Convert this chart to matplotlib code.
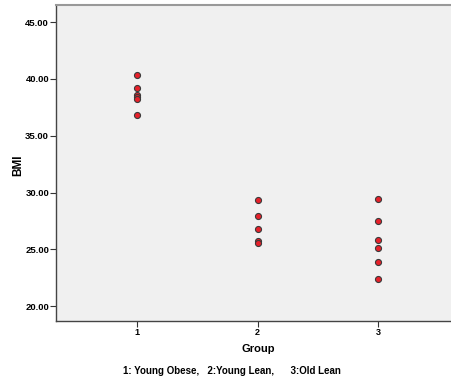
import numpy as np
import matplotlib.pyplot as plt

plt.rcParams['font.family'] = ['Liberation Sans', 'DejaVu Sans']

# BMI values, per group
group1_bmi = [40.3, 39.2, 38.6, 38.4, 38.2, 36.8]
group2_bmi = [29.35, 27.9, 26.8, 25.7, 25.6]
group3_bmi = [29.45, 27.5, 25.8, 25.1, 23.85, 22.4]
groups = [1, 2, 3]
y_ticks = [20, 25, 30, 35, 40, 45]

fig = plt.figure(figsize=(4.51, 3.8), dpi=100)
ax = fig.add_axes([0.1242, 0.1553, 0.8758, 0.8315])
ax.set_facecolor('#f0f0f0')

for g, vals in zip(groups, [group1_bmi, group2_bmi, group3_bmi]):
    ax.scatter([g] * len(vals), vals, s=19, c='#e8202a', edgecolors='#3a3a3a',
               linewidths=0.8, zorder=3)

ax.set_xlim(0.333, 3.6)
ax.set_ylim(18.7, 46.5)
ax.set_xticks(groups)
ax.set_xticklabels([str(g) for g in groups], fontsize=6.5, fontweight='bold')
ax.set_yticks(y_ticks)
ax.set_yticklabels(['%.2f' % v for v in y_ticks], fontsize=6.8, fontweight='bold')
ax.tick_params(length=4, width=0.8, color='#333333', pad=1)

for s in ['left', 'bottom']:
    ax.spines[s].set_color('#444444')
    ax.spines[s].set_linewidth(1.0)
ax.spines['top'].set_color('#999999')
ax.spines['top'].set_linewidth(1.5)
ax.spines['right'].set_visible(False)

fig.text(18 / 451, 1 - 165 / 380, 'BMI', rotation=90, fontsize=8.5,
         fontweight='bold', ha='center', va='center')
fig.text(258 / 451, 1 - 349 / 380, 'Group', fontsize=8,
         fontweight='bold', ha='center', va='center')
fig.text(232 / 451, 1 - 371 / 380,
         '1: Young Obese,   2:Young Lean,      3:Old Lean', fontsize=7,
         fontweight='bold', ha='center', va='center')

fig.savefig('out.png', dpi=100, facecolor='white')
